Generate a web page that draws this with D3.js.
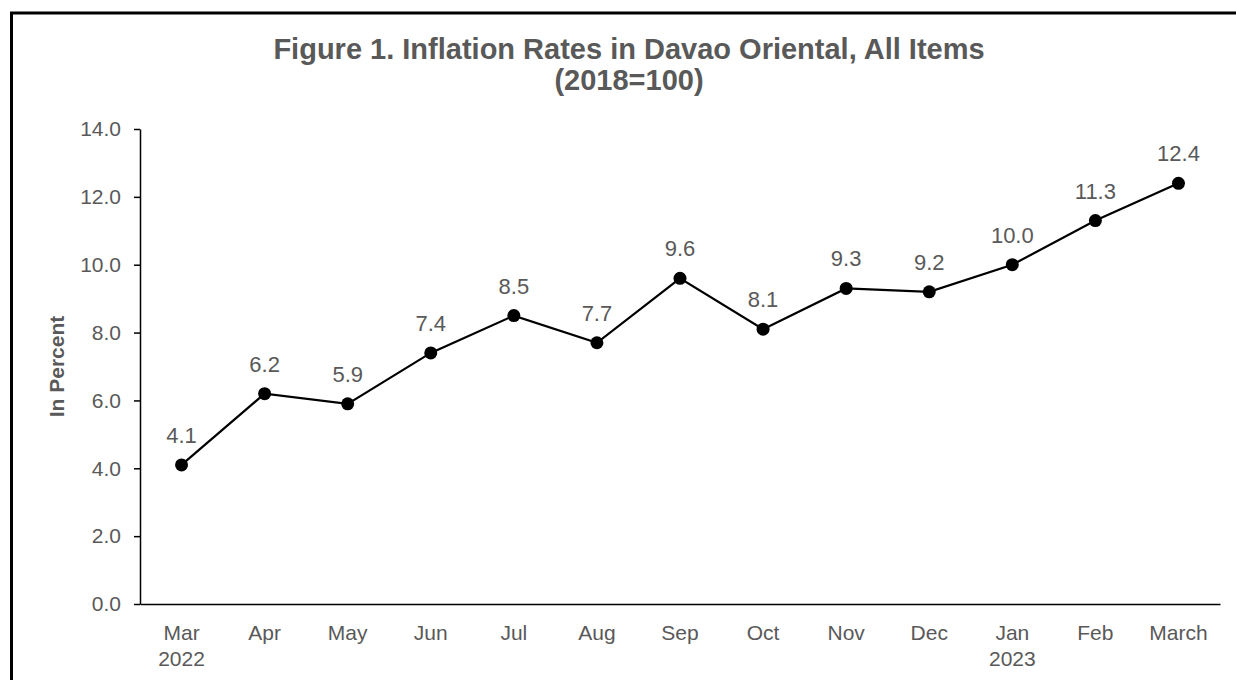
<!DOCTYPE html>
<html>
<head>
  <meta charset="utf-8">
  <title>Inflation Rates in Davao Oriental</title>
  <style>
  body { margin: 0; background: #fff; }
  text { font-family: "Liberation Sans", Arial, sans-serif; fill: #595959; }
  .title { font-size: 29px; font-weight: bold; text-anchor: middle; }
  .y-title { font-size: 21px; font-weight: bold; text-anchor: middle; }
  .axis text { font-size: 21px; fill: #595959; }
  .axis path, .axis line { stroke: #000; stroke-width: 1.5px; }
  .line { fill: none; stroke: #000; stroke-width: 2.2px; }
  .dot { fill: #000; }
  .value { font-size: 22px; text-anchor: middle; }
  </style>
</head>
<body>
  <div id="chart"></div>
  <script src="https://cdn.jsdelivr.net/npm/d3@7"></script>
  <script>
  //chart data
  var months = ["Mar", "Apr", "May", "Jun", "Jul", "Aug", "Sep", "Oct", "Nov", "Dec", "Jan", "Feb", "March"];
  var years = ["2022", "", "", "", "", "", "", "", "", "", "2023", "", ""];
  var rates = [4.1, 6.2, 5.9, 7.4, 8.5, 7.7, 9.6, 8.1, 9.3, 9.2, 10.0, 11.3, 12.4];
  var yTicks = [0, 2, 4, 6, 8, 10, 12, 14];

  var width = 1236, height = 680;
  var margin = {left: 140, right: 16, top: 129, bottom: 76};

  var svg = d3.select("#chart")
    .append("svg")
    .attr("width", width)
    .attr("height", height);

  //outer frame (right and bottom run off the picture)
  svg.append("rect")
    .attr("x", 11.5).attr("y", 13)
    .attr("width", width + 20).attr("height", height + 20)
    .attr("fill", "none").attr("stroke", "#000").attr("stroke-width", 3);

  var x = d3.scaleBand()
    .domain(months)
    .range([margin.left, width - margin.right])
    .padding(0);

  var y = d3.scaleLinear()
    .domain([0, 14])
    .range([height - margin.bottom, margin.top]);

  //title
  svg.append("text").attr("class", "title")
    .attr("x", 629).attr("y", 59)
    .text("Figure 1. Inflation Rates in Davao Oriental, All Items");
  svg.append("text").attr("class", "title")
    .attr("x", 629).attr("y", 90)
    .text("(2018=100)");

  //y axis
  svg.append("g")
    .attr("class", "axis")
    .attr("transform", "translate(" + margin.left + ",0)")
    .call(d3.axisLeft(y).tickValues(yTicks).tickFormat(d3.format(".1f")).tickSize(6).tickPadding(13).tickSizeOuter(0));

  //x axis
  var xAxis = svg.append("g")
    .attr("class", "axis")
    .attr("transform", "translate(0," + (height - margin.bottom) + ")")
    .call(d3.axisBottom(x).tickSize(0).tickPadding(21).tickSizeOuter(0));

  xAxis.selectAll(".tick text")
    .attr("dy", "0.71em")
    .each(function(d, i) {
      if (years[i]) {
        d3.select(this).append("tspan")
          .attr("x", 0).attr("dy", "1.25em")
          .text(years[i]);
      }
    });

  //y axis title
  svg.append("text").attr("class", "y-title")
    .attr("transform", "translate(64," + y(7.0) + ") rotate(-90)")
    .text("In Percent");

  //line
  var line = d3.line()
    .x(function(d, i) { return x(months[i]) + x.bandwidth() / 2; })
    .y(function(d) { return y(d); });

  svg.append("path")
    .datum(rates)
    .attr("class", "line")
    .attr("d", line);

  //markers
  svg.selectAll(".dot")
    .data(rates)
    .enter().append("circle")
    .attr("class", "dot")
    .attr("cx", function(d, i) { return x(months[i]) + x.bandwidth() / 2; })
    .attr("cy", function(d) { return y(d); })
    .attr("r", 6.5);

  //data labels
  svg.selectAll(".value")
    .data(rates)
    .enter().append("text")
    .attr("class", "value")
    .attr("x", function(d, i) { return x(months[i]) + x.bandwidth() / 2; })
    .attr("y", function(d) { return y(d) - 22; })
    .text(function(d) { return d.toFixed(1); });
  </script>
</body>
</html>
